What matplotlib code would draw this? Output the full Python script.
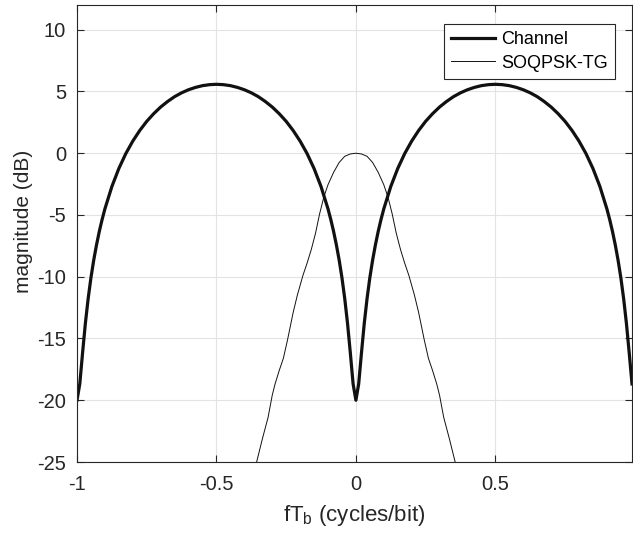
import matplotlib
matplotlib.use('Agg')
import matplotlib.pyplot as plt

# channel magnitude response (dB)
freq_channel = [
    -1.00, -0.99, -0.98, -0.97, -0.96, -0.95, -0.94, -0.93, -0.92, -0.91, -0.90,
    -0.875, -0.85, -0.825, -0.80, -0.775, -0.75, -0.725, -0.70, -0.675, -0.65,
    -0.625, -0.60, -0.575, -0.55, -0.525, -0.50, -0.475, -0.45, -0.425, -0.40,
    -0.375, -0.35, -0.325, -0.30, -0.275, -0.25, -0.225, -0.20, -0.175, -0.15,
    -0.125, -0.10, -0.09, -0.08, -0.07, -0.06, -0.05, -0.04, -0.03, -0.02, -0.01,
    0.00, 0.01, 0.02, 0.03, 0.04, 0.05, 0.06, 0.07, 0.08, 0.09, 0.10,
    0.125, 0.15, 0.175, 0.20, 0.225, 0.25, 0.275, 0.30, 0.325, 0.35,
    0.375, 0.40, 0.425, 0.45, 0.475, 0.50, 0.525, 0.55, 0.575, 0.60,
    0.625, 0.65, 0.675, 0.70, 0.725, 0.75, 0.775, 0.80, 0.825, 0.85,
    0.875, 0.90, 0.91, 0.92, 0.93, 0.94, 0.95, 0.96, 0.97, 0.98, 0.99,
]
channel_db = [
    -20.00, -18.68, -16.16, -13.78, -11.77, -10.08, -8.65, -7.42, -6.33, -5.37, -4.51,
    -2.70, -1.24, -0.03, 0.98, 1.84, 2.58, 3.20, 3.74, 4.19, 4.58,
    4.89, 5.14, 5.33, 5.47, 5.55, 5.58, 5.55, 5.47, 5.33, 5.14,
    4.89, 4.58, 4.19, 3.74, 3.20, 2.58, 1.84, 0.98, -0.03, -1.24,
    -2.70, -4.51, -5.37, -6.33, -7.42, -8.65, -10.08, -11.77, -13.78, -16.16, -18.68,
    -20.00, -18.68, -16.16, -13.78, -11.77, -10.08, -8.65, -7.42, -6.33, -5.37, -4.51,
    -2.70, -1.24, -0.03, 0.98, 1.84, 2.58, 3.20, 3.74, 4.19, 4.58,
    4.89, 5.14, 5.33, 5.47, 5.55, 5.58, 5.55, 5.47, 5.33, 5.14,
    4.89, 4.58, 4.19, 3.74, 3.20, 2.58, 1.84, 0.98, -0.03, -1.24,
    -2.70, -4.51, -5.37, -6.33, -7.42, -8.65, -10.08, -11.77, -13.78, -16.16, -18.68,
]

# SOQPSK-TG spectrum (dB)
freq_soqpsk = [
    -0.357, -0.335, -0.315, -0.30, -0.29, -0.275, -0.26, -0.245, -0.225, -0.21,
    -0.20, -0.19, -0.175, -0.16, -0.145, -0.13, -0.115, -0.10, -0.08, -0.06,
    -0.04, -0.02, 0.00, 0.02, 0.04, 0.06, 0.08, 0.10, 0.115, 0.13,
    0.145, 0.16, 0.175, 0.19, 0.20, 0.21, 0.225, 0.245, 0.26, 0.275,
    0.29, 0.30, 0.315, 0.335, 0.357,
]
soqpsk_db = [
    -25.1, -23.1, -21.4, -19.6, -18.7, -17.6, -16.6, -15.1, -12.9, -11.5,
    -10.7, -9.9, -8.9, -7.8, -6.5, -4.9, -3.55, -2.55, -1.55, -0.75,
    -0.25, -0.06, 0.0, -0.06, -0.25, -0.75, -1.55, -2.55, -3.55, -4.9,
    -6.5, -7.8, -8.9, -9.9, -10.7, -11.5, -12.9, -15.1, -16.6, -17.6,
    -18.7, -19.6, -21.4, -23.1, -25.1,
]

xticks = [-1, -0.5, 0, 0.5]
xticklabels = ['-1', '-0.5', '0', '0.5']
yticks = [-25, -20, -15, -10, -5, 0, 5, 10]

plt.rcParams['font.family'] = ['Liberation Sans', 'DejaVu Sans']
plt.rcParams['mathtext.fontset'] = 'custom'
plt.rcParams['mathtext.rm'] = 'Liberation Sans'
plt.rcParams['mathtext.it'] = 'Liberation Sans'
plt.rcParams['axes.unicode_minus'] = False

textcol = '#262626'

fig = plt.figure(figsize=(6.33, 5.40), dpi=100)
ax = fig.add_axes([77 / 633, 78 / 540, 555 / 633, 457 / 540])

ax.plot(freq_channel, channel_db, color='#111111', lw=2.3, label='Channel')
ax.plot(freq_soqpsk, soqpsk_db, color='#111111', lw=0.7, label='SOQPSK-TG')

ax.set_xlim(-1, 0.99)
ax.set_ylim(-25, 12)
ax.set_xticks(xticks)
ax.set_xticklabels(xticklabels)
ax.set_yticks(yticks)
ax.grid(True, color='#e3e3e3', lw=0.8)
ax.set_axisbelow(True)

ax.tick_params(direction='in', top=True, right=True, length=5, width=0.8,
               colors=textcol, labelsize=14.5)
ax.tick_params(axis='x', pad=9)
ax.tick_params(axis='y', pad=8)
for s in ax.spines.values():
    s.set_color(textcol)
    s.set_linewidth(0.8)

ax.set_xlabel('fT$_{\\mathrm{b}}$ (cycles/bit)', fontsize=16, color=textcol, labelpad=7)
ax.set_ylabel('magnitude (dB)', fontsize=15, color=textcol)
ax.yaxis.set_label_coords(-0.08, 0.527)

leg = ax.legend(loc='upper right', bbox_to_anchor=(0.970, 0.958), fontsize=13,
                fancybox=False, framealpha=1, edgecolor=textcol,
                handlelength=2.4, handletextpad=0.37, borderpad=0.4,
                labelspacing=0.35, borderaxespad=0)
leg.get_frame().set_linewidth(0.8)

fig.savefig('out.png', dpi=100)
